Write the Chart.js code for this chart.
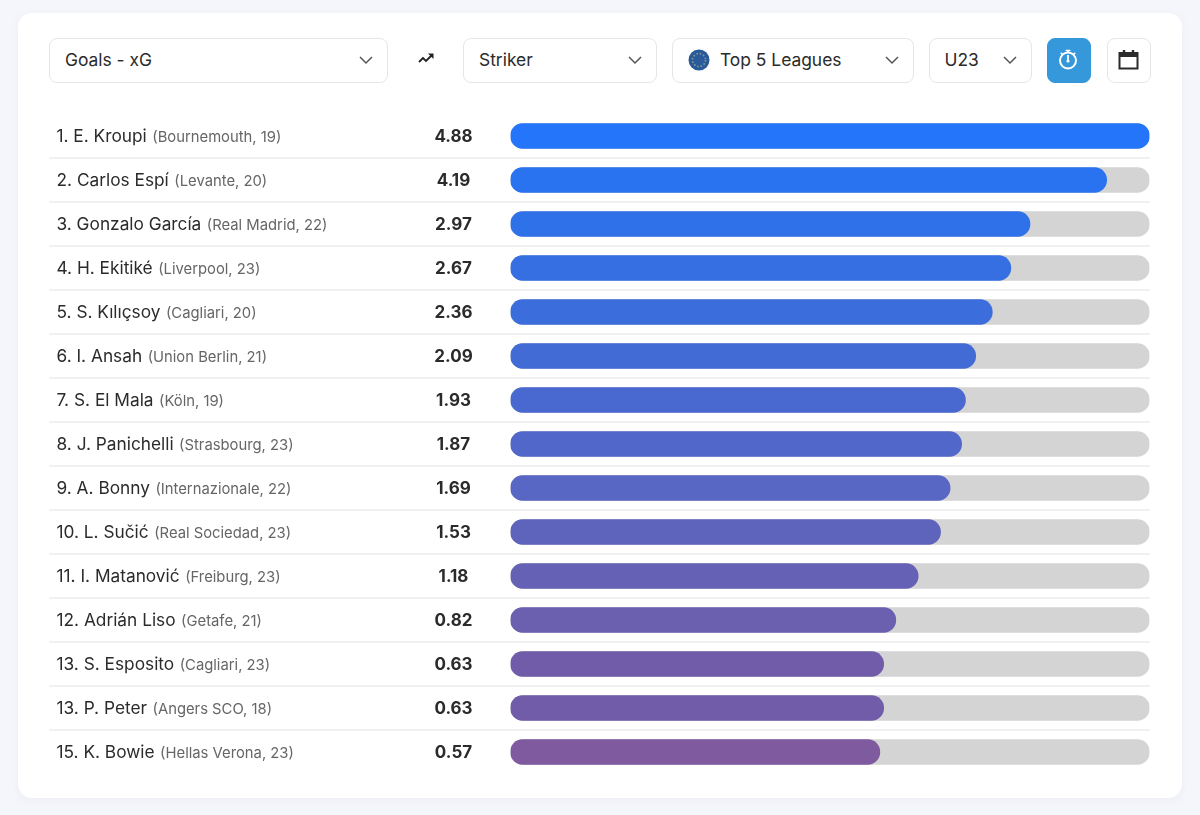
<!DOCTYPE html>
<html lang="en">
<head>
<meta charset="utf-8">
<title>Goals - xG</title>
<script src="https://cdn.jsdelivr.net/npm/chart.js@4"></script>
<style>
    html, body { margin: 0; height: 100%; background: #f5f6fb; overflow: hidden; }
    body { font-family: Inter, sans-serif; color: #2b2b2b; }
    .card {
        position: absolute; left: 18px; top: 13px; width: 1164px; height: 785px;
        background: #fff; border-radius: 14px; box-shadow: 0 2px 10px rgba(60, 70, 110, 0.05);
    }
    .select, .btn {
        position: absolute; top: 38px; height: 44.5px; box-sizing: border-box;
        border: 1.5px solid #e6e6e8; border-radius: 8px; background: #fff;
        font-size: 17.4px; line-height: 41px; padding-left: 15px;
    }
    .select svg.chev { position: absolute; right: 13px; top: 16px; }
    .btn { width: 44px; padding: 0; }
    .btn svg { position: absolute; }
    #chartWrap { position: absolute; left: 49px; top: 114px; width: 1101px; height: 660px; }
</style>
</head>
<body>
<div class="card"></div>

<div class="select" style="left:49px;width:338.5px">Goals - xG
    <svg class="chev" width="16" height="10" viewBox="0 0 16 10"><path d="M2 2l6 6 6-6" fill="none" stroke="#555" stroke-width="1.5"/></svg>
</div>
<svg style="position:absolute;left:417px;top:51px" width="19" height="15" viewBox="0 0 19 15">
    <path d="M2 11l4-4 3 3 6-6" fill="none" stroke="#222" stroke-width="1.8"/><path d="M11 2.5h5.5V8z" fill="#222"/>
</svg>
<div class="select" style="left:463px;width:193.5px">Striker
    <svg class="chev" width="16" height="10" viewBox="0 0 16 10"><path d="M2 2l6 6 6-6" fill="none" stroke="#555" stroke-width="1.5"/></svg>
</div>
<div class="select" style="left:671.5px;width:242px;padding-left:47.5px">Top 5 Leagues
    <svg style="position:absolute;left:15px;top:9.5px" width="22" height="22" viewBox="0 0 22 22">
        <circle cx="11" cy="11" r="10.5" fill="#2b5a9b"/>
        <circle cx="11" cy="11" r="6.5" fill="none" stroke="#7f9c8c" stroke-width="1.6" stroke-dasharray="1.6 1.8"/>
    </svg>
    <svg class="chev" width="16" height="10" viewBox="0 0 16 10"><path d="M2 2l6 6 6-6" fill="none" stroke="#555" stroke-width="1.5"/></svg>
</div>
<div class="select" style="left:928.5px;width:103px">U23
    <svg class="chev" width="16" height="10" viewBox="0 0 16 10"><path d="M2 2l6 6 6-6" fill="none" stroke="#555" stroke-width="1.5"/></svg>
</div>
<div class="btn" style="left:1046.5px;background:#3498db;border-color:#3498db">
    <svg style="left:9.5px;top:9px" width="22" height="23" viewBox="0 0 22 23">
        <circle cx="11" cy="12.5" r="8" fill="none" stroke="#fff" stroke-width="2"/>
        <path d="M11 2.5v2.5M8.6 2.5h4.8M3.8 4.8l2 1.8M18.2 4.8l-2 1.8" stroke="#fff" stroke-width="1.7" fill="none"/>
        <path d="M11 7v6" stroke="#fff" stroke-width="1.8"/><circle cx="11" cy="13" r="1.6" fill="#fff"/>
    </svg>
</div>
<div class="btn" style="left:1106.5px">
    <svg style="left:9px;top:8.5px" width="23" height="23" viewBox="0 0 23 23">
        <rect x="2.5" y="5" width="18" height="15.5" fill="none" stroke="#2b2b2b" stroke-width="2"/>
        <path d="M2.5 5h18v4h-18z" fill="#2b2b2b"/>
        <path d="M7 2v3M16 2v3" stroke="#2b2b2b" stroke-width="2.4"/>
    </svg>
</div>

<div id="chartWrap"><canvas id="rankingChart"></canvas></div>

<script>
// Ranking table
const ranks = [1, 2, 3, 4, 5, 6, 7, 8, 9, 10, 11, 12, 13, 13, 15];
const players = ["E. Kroupi", "Carlos Espí", "Gonzalo García", "H. Ekitiké", "S. Kılıçsoy", "I. Ansah", "S. El Mala", "J. Panichelli", "A. Bonny", "L. Sučić", "I. Matanović", "Adrián Liso", "S. Esposito", "P. Peter", "K. Bowie"];
const clubs = ["Bournemouth, 19", "Levante, 20", "Real Madrid, 22", "Liverpool, 23", "Cagliari, 20", "Union Berlin, 21", "Köln, 19", "Strasbourg, 23", "Internazionale, 22", "Real Sociedad, 23", "Freiburg, 23", "Getafe, 21", "Cagliari, 23", "Angers SCO, 18", "Hellas Verona, 23"];
const values = ["4.88", "4.19", "2.97", "2.67", "2.36", "2.09", "1.93", "1.87", "1.69", "1.53", "1.18", "0.82", "0.63", "0.63", "0.57"];

// The bars are not proportional to the printed value, so their fill is read separately (% of track)
const barFill = [100, 93.3, 81.3, 78.3, 75.4, 72.8, 71.2, 70.6, 68.8, 67.3, 63.8, 60.3, 58.4, 58.4, 57.8];
const trackFill = [100, 100, 100, 100, 100, 100, 100, 100, 100, 100, 100, 100, 100, 100, 100];
const barColors = ["#2575fb", "#2a73f0", "#2f71e8", "#356fe2", "#3b6ddc", "#436bd6", "#4a69d0", "#5167ca", "#5866c4", "#5e64bc", "#6562b6", "#6b5fb0", "#705ca8", "#705ca8", "#7f5a9f"];

// Draws the separators and the row texts next to the bars
const rowLabels = {
    id: "rowLabels",
    beforeDatasetsDraw(chart) {
        const ctx = chart.ctx;
        const yScale = chart.scales.y;
        ctx.save();
        ctx.strokeStyle = "#e4e4e6";
        ctx.lineWidth = 1.2;
        for (let i = 0; i < players.length - 1; i++) {
            const y = (yScale.getPixelForValue(i) + yScale.getPixelForValue(i + 1)) / 2;
            ctx.beginPath();
            ctx.moveTo(0, y);
            ctx.lineTo(chart.width, y);
            ctx.stroke();
        }
        ctx.textBaseline = "middle";
        players.forEach((name, i) => {
            const y = yScale.getPixelForValue(i);
            const label = ranks[i] + ". " + name;
            ctx.textAlign = "left";
            ctx.font = "17.3px Inter";
            ctx.fillStyle = "#2b2b2b";
            ctx.fillText(label, 7.5, y + 0.5);
            const labelWidth = ctx.measureText(label).width;
            ctx.font = "14.8px Inter";
            ctx.fillStyle = "#666666";
            ctx.fillText("(" + clubs[i] + ")", 7.5 + labelWidth + 5.5, y + 1.5);
            ctx.textAlign = "center";
            ctx.font = "bold 17px Inter";
            ctx.fillStyle = "#2b2b2b";
            ctx.fillText(values[i], 404.5, y + 0.5);
        });
        ctx.restore();
    },
};

new Chart(document.getElementById("rankingChart").getContext("2d"), {
    type: "bar",
    data: {
        labels: players,
        datasets: [
            {
                label: "Goals - xG",
                data: barFill,
                backgroundColor: barColors,
                borderRadius: 12.5,
                borderSkipped: false,
                barThickness: 24.6,
                grouped: false,
                order: 1,
            },
            {
                label: "Track",
                data: trackFill,
                backgroundColor: "#d4d4d4",
                borderRadius: 12.5,
                borderSkipped: false,
                barThickness: 24.6,
                grouped: false,
                order: 2,
            },
        ],
    },
    options: {
        indexAxis: "y",
        responsive: true,
        maintainAspectRatio: false,
        animation: false,
        layout: { padding: { left: 461.5, right: 0.5 } },
        plugins: { legend: { display: false }, tooltip: { enabled: false } },
        scales: {
            x: { display: false, min: 0, max: 100 },
            y: { display: false },
        },
    },
    plugins: [rowLabels],
});
</script>
</body>
</html>
